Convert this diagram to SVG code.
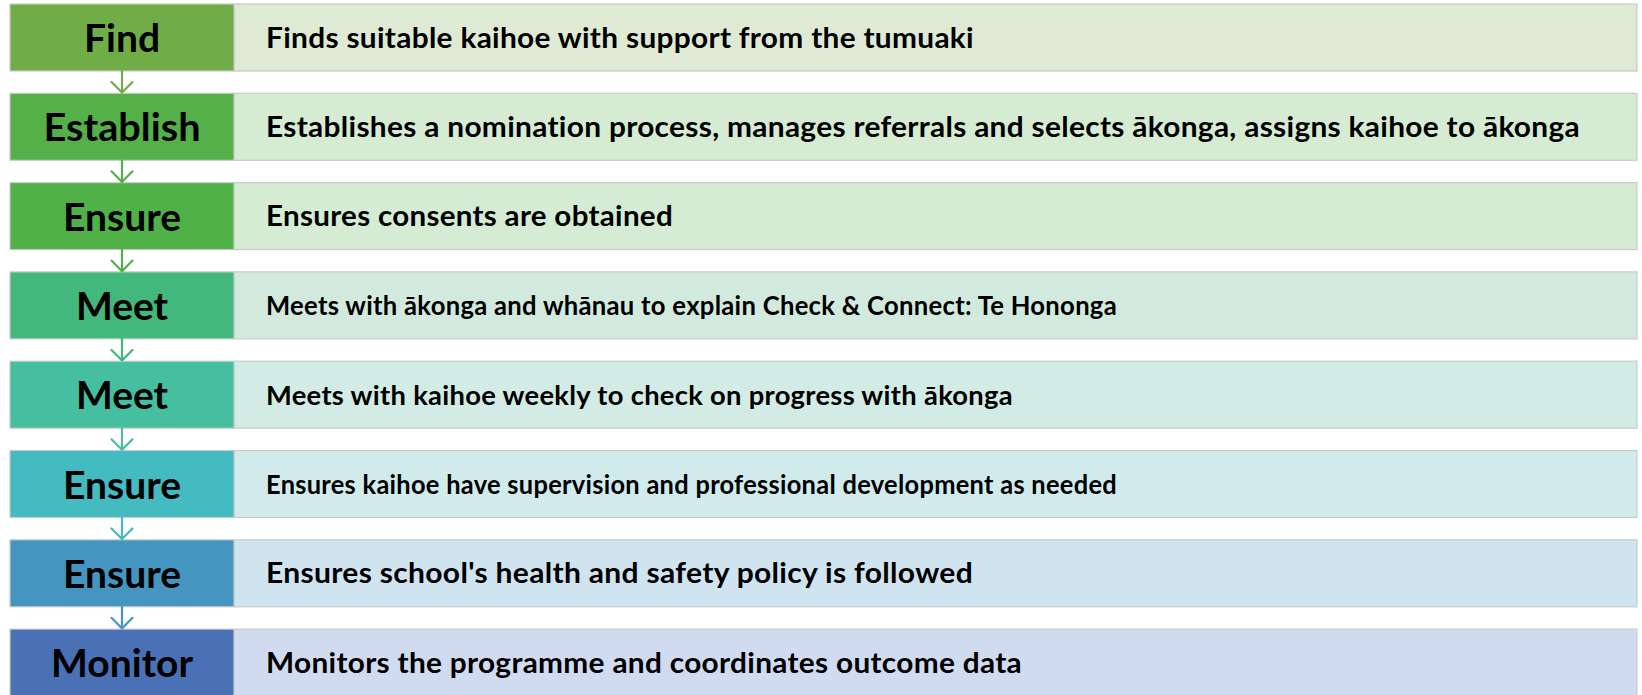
<svg xmlns="http://www.w3.org/2000/svg" width="1642" height="695" viewBox="0 0 1642 695">
  <style>
    .bg { fill: #ffffff; }
    .step { stroke: #c6ccc8; stroke-width: 1.2; }
    .desc { stroke: #c6ccc8; stroke-width: 1.2; }
    .lbl { font-family: Lato, "Liberation Sans", sans-serif; font-weight: 700; font-size: 39px; fill: #000000; text-anchor: middle; }
    .txt { font-family: Lato, "Liberation Sans", sans-serif; font-weight: 700; font-size: 27.5px; letter-spacing: 0.3px; fill: #000000; }
    .link { fill: none; stroke-width: 2.2; stroke-linecap: round; stroke-linejoin: round; }
  </style>
  <rect class="bg" x="0" y="0" width="1642" height="695"/>

  <g id="row-find">
    <rect class="desc" x="234" y="4" width="1403" height="67" fill="#dfead4"/>
    <rect class="step" x="10" y="4" width="224" height="67" fill="#70ad47"/>
    <text class="lbl" x="122" y="52">Find</text>
    <text class="txt" x="266" y="47.5" style="font-size:28.6px" textLength="708" lengthAdjust="spacingAndGlyphs">Finds suitable kaihoe with support from the tumuaki</text>
  </g>

  <g id="row-establish">
    <rect class="desc" x="234" y="93.3" width="1403" height="67" fill="#d5ebd2"/>
    <rect class="step" x="10" y="93.3" width="224" height="67" fill="#55b04a"/>
    <text class="lbl" x="122" y="141.4" textLength="157" lengthAdjust="spacingAndGlyphs">Establish</text>
    <text class="txt" x="266" y="136.7" style="font-size:28.6px" textLength="1314" lengthAdjust="spacingAndGlyphs">Establishes a nomination process, manages referrals and selects ākonga, assigns kaihoe to ākonga</text>
  </g>

  <g id="row-ensure-consents">
    <rect class="desc" x="234" y="182.6" width="1403" height="67" fill="#d3ecd3"/>
    <rect class="step" x="10" y="182.6" width="224" height="67" fill="#50b148"/>
    <text class="lbl" x="122" y="230.7">Ensure</text>
    <text class="txt" x="266" y="226" style="font-size:28.5px" textLength="407" lengthAdjust="spacingAndGlyphs">Ensures consents are obtained</text>
  </g>

  <g id="row-meet-whanau">
    <rect class="desc" x="234" y="271.9" width="1403" height="67" fill="#d2eadd"/>
    <rect class="step" x="10" y="271.9" width="224" height="67" fill="#42b87c"/>
    <text class="lbl" x="122" y="320">Meet</text>
    <text class="txt" x="266" y="315.3" style="font-size:26.6px" textLength="851" lengthAdjust="spacingAndGlyphs">Meets with ākonga and whānau to explain Check &amp; Connect: Te Hononga</text>
  </g>

  <g id="row-meet-kaihoe">
    <rect class="desc" x="234" y="361.2" width="1403" height="67" fill="#d2ebe4"/>
    <rect class="step" x="10" y="361.2" width="224" height="67" fill="#46bfa0"/>
    <text class="lbl" x="122" y="409.3">Meet</text>
    <text class="txt" x="266" y="404.6" textLength="747" lengthAdjust="spacingAndGlyphs">Meets with kaihoe weekly to check on progress with ākonga</text>
  </g>

  <g id="row-ensure-supervision">
    <rect class="desc" x="234" y="450.5" width="1403" height="67" fill="#d1ebec"/>
    <rect class="step" x="10" y="450.5" width="224" height="67" fill="#44bac1"/>
    <text class="lbl" x="122" y="498.6">Ensure</text>
    <text class="txt" x="266" y="493.9" style="font-size:26.5px" textLength="851" lengthAdjust="spacingAndGlyphs">Ensures kaihoe have supervision and professional development as needed</text>
  </g>

  <g id="row-ensure-safety">
    <rect class="desc" x="234" y="539.8" width="1403" height="67" fill="#d0e4ef"/>
    <rect class="step" x="10" y="539.8" width="224" height="67" fill="#4496c0"/>
    <text class="lbl" x="122" y="587.9">Ensure</text>
    <text class="txt" x="266" y="583.2" style="font-size:28.7px" textLength="707" lengthAdjust="spacingAndGlyphs">Ensures school's health and safety policy is followed</text>
  </g>

  <g id="row-monitor">
    <rect class="desc" x="234" y="629.1" width="1403" height="67" fill="#d1dbef"/>
    <rect class="step" x="10" y="629.1" width="224" height="67" fill="#4a70b6"/>
    <text class="lbl" x="122" y="677.2" textLength="142" lengthAdjust="spacingAndGlyphs">Monitor</text>
    <text class="txt" x="266" y="672.5" style="font-size:28.6px" textLength="756" lengthAdjust="spacingAndGlyphs">Monitors the programme and coordinates outcome data</text>
  </g>

  <g id="connectors">
    <path class="link" stroke="#70ad47" d="M122 71 V92.6 M111.5 82 L122 92.6 L132.5 82"/>
    <path class="link" stroke="#55b04a" d="M122 160.3 V181.9 M111.5 171.3 L122 181.9 L132.5 171.3"/>
    <path class="link" stroke="#50b148" d="M122 249.6 V271.2 M111.5 260.6 L122 271.2 L132.5 260.6"/>
    <path class="link" stroke="#42b87c" d="M122 338.9 V360.5 M111.5 349.9 L122 360.5 L132.5 349.9"/>
    <path class="link" stroke="#46bfa0" d="M122 428.2 V449.8 M111.5 439.2 L122 449.8 L132.5 439.2"/>
    <path class="link" stroke="#44bac1" d="M122 517.5 V539.1 M111.5 528.5 L122 539.1 L132.5 528.5"/>
    <path class="link" stroke="#4496c0" d="M122 606.8 V628.4 M111.5 617.8 L122 628.4 L132.5 617.8"/>
  </g>
</svg>
